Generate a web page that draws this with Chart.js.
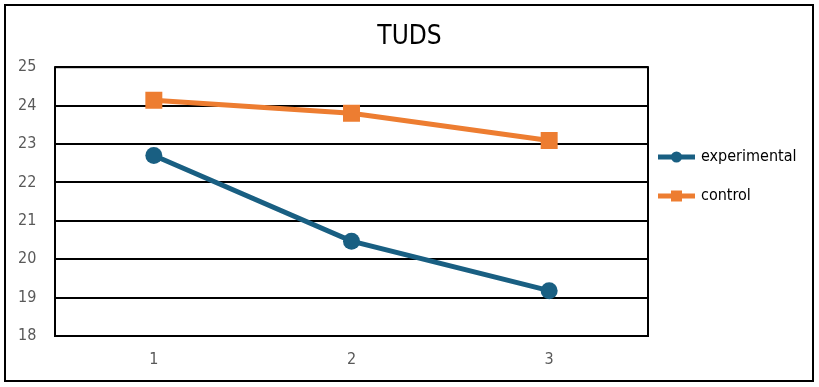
<!DOCTYPE html>
<html>
<head>
<meta charset="utf-8">
<script src="https://cdn.jsdelivr.net/npm/chart.js@4.4.0/dist/chart.umd.min.js"></script>
<style>
  html, body { margin: 0; padding: 0; background: #fff; }
</style>
</head>
<body>
<canvas id="chart" width="819" height="387"></canvas>
<script>
const categories = ['1', '2', '3'];
const experimental = [22.7, 20.47, 19.18];
const control = [24.14, 23.8, 23.09];
const yTicks = [18, 19, 20, 21, 22, 23, 24, 25];

const FONT = '"DejaVu Sans Condensed", "Liberation Sans Narrow", sans-serif';
const BLUE = '#195f82';
const ORANGE = '#ed7d31';

// outer frame, plot border and the line+marker legend
const framePlugin = {
    id: 'frame',
    beforeDraw(chart) {
        const ctx = chart.ctx;
        ctx.save();
        ctx.fillStyle = '#fff';
        ctx.fillRect(0, 0, chart.width, chart.height);
        ctx.strokeStyle = '#000';
        ctx.lineWidth = 2;
        ctx.strokeRect(5, 5, chart.width - 11, chart.height - 11);
        ctx.restore();
    },
    beforeDatasetsDraw(chart) {
        const a = chart.chartArea;
        const ctx = chart.ctx;
        ctx.save();
        ctx.strokeStyle = '#000';
        ctx.lineWidth = 2;
        ctx.strokeRect(a.left, a.top, a.right - a.left, a.bottom - a.top);
        ctx.restore();
    },
    afterDraw(chart) {
        const ctx = chart.ctx;
        const x0 = chart.chartArea.right + 10;
        let y = 157;
        ctx.save();
        chart.data.datasets.forEach(ds => {
            ctx.strokeStyle = ds.borderColor;
            ctx.lineWidth = 5;
            ctx.beginPath();
            ctx.moveTo(x0, y);
            ctx.lineTo(x0 + 37, y);
            ctx.stroke();
            ctx.fillStyle = ds.borderColor;
            ctx.beginPath();
            if (ds.pointStyle === 'rect') {
                ctx.rect(x0 + 18.5 - 5.5, y - 5.5, 11, 11);
            } else {
                ctx.arc(x0 + 18.5, y, 5.5, 0, Math.PI * 2);
            }
            ctx.fill();
            ctx.fillStyle = '#000';
            ctx.font = '16px ' + FONT;
            ctx.textBaseline = 'middle';
            ctx.fillText(ds.label, x0 + 43, y);
            y += 39;
        });
        ctx.restore();
    }
};

new Chart(document.getElementById('chart'), {
    type: 'line',
    data: {
        labels: categories,
        datasets: [{
            label: 'experimental',
            data: experimental,
            borderColor: BLUE,
            backgroundColor: BLUE,
            borderWidth: 5,
            pointStyle: 'circle',
            pointRadius: 8.5,
            pointBorderWidth: 0,
            tension: 0
        }, {
            label: 'control',
            data: control,
            borderColor: ORANGE,
            backgroundColor: ORANGE,
            borderWidth: 5,
            pointStyle: 'rect',
            pointRadius: 12,
            pointBorderWidth: 0,
            tension: 0
        }]
    },
    options: {
        responsive: false,
        animation: false,
        layout: { padding: { left: 18, right: 18, top: 10, bottom: 11 } },
        scales: {
            x: {
                offset: true,
                grid: { display: false },
                border: { display: false },
                ticks: { color: '#595959', padding: 6, font: { family: FONT, size: 16 } },
                afterFit: s => { s.height = 40; }
            },
            y: {
                min: 18,
                max: 25,
                afterBuildTicks: s => { s.ticks = yTicks.map(v => ({ value: v })); },
                grid: { color: '#000', lineWidth: 2, drawTicks: false },
                border: { display: false },
                ticks: { color: '#595959', crossAlign: 'far', font: { family: FONT, size: 16 } },
                afterFit: s => { s.width = 37; }
            },
            legendSpace: {
                type: 'linear',
                position: 'right',
                display: true,
                grid: { display: false },
                border: { display: false },
                ticks: { display: false },
                afterFit: s => { s.width = 153; }
            }
        },
        plugins: {
            legend: { display: false },
            tooltip: { enabled: false },
            title: {
                display: true,
                text: 'TUDS',
                color: '#000',
                font: { family: FONT, size: 26, weight: 'normal' },
                padding: { top: 12, bottom: 14 }
            }
        }
    },
    plugins: [framePlugin]
});
</script>
</body>
</html>
